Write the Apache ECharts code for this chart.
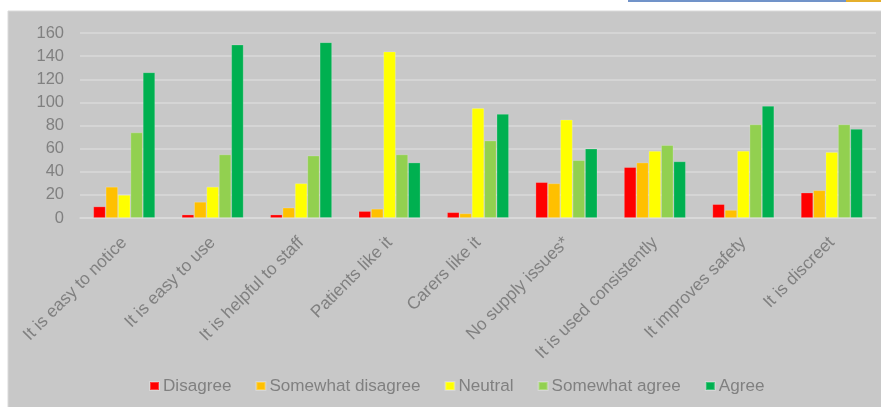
<!DOCTYPE html>
<html>
<head>
<meta charset="utf-8">
<script src="https://cdn.jsdelivr.net/npm/echarts@6/dist/echarts.min.js"></script>
<style>
html,body{margin:0;padding:0;background:#ffffff;}
#chart{width:881px;height:407px;}
</style>
</head>
<body>
<div id="chart"></div>
<script>
const categories = ["It is easy to notice","It is easy to use","It is helpful to staff","Patients like it","Carers like it","No supply issues*","It is used consistently","It improves safety","It is discreet"];
const disagree = [10, 3, 3, 6, 5, 31, 44, 12, 22];
const somewhatDisagree = [27, 14, 9, 8, 4, 30, 48, 7, 24];
const neutral = [20, 27, 30, 144, 95, 85, 58, 58, 57];
const somewhatAgree = [74, 55, 54, 55, 67, 50, 63, 81, 81];
const agree = [126, 150, 152, 48, 90, 60, 49, 97, 77];
const yTicks = [0, 20, 40, 60, 80, 100, 120, 140, 160];

const seriesDefs = [
  {name: "Disagree", data: disagree, color: "#ff0000"},
  {name: "Somewhat disagree", data: somewhatDisagree, color: "#ffc000"},
  {name: "Neutral", data: neutral, color: "#ffff00"},
  {name: "Somewhat agree", data: somewhatAgree, color: "#92d050"},
  {name: "Agree", data: agree, color: "#00b050"}
];

const textColor = "#808080";
const font = "'Liberation Sans', Arial, sans-serif";

const chart = echarts.init(document.getElementById('chart'), null, {renderer: 'canvas'});
chart.setOption({
  backgroundColor: '#ffffff',
  animation: false,
  graphic: [
    {type: 'rect', z: -10, shape: {x: 8, y: 11, width: 874, height: 397},
     style: {fill: '#c8c8c8', stroke: '#dadada', lineWidth: 1}},
    {type: 'rect', z: -5, shape: {x: 628, y: 0, width: 218, height: 2}, style: {fill: '#7193c9'}},
    {type: 'rect', z: -5, shape: {x: 846, y: 0, width: 35, height: 2}, style: {fill: '#e5af2c'}}
  ],
  grid: {left: 80, right: 5, top: 33, bottom: 189, containLabel: false},
  legend: {
    left: 144, top: 372, padding: 5,
    itemWidth: 9, itemHeight: 8, itemGap: 24,
    icon: 'rect',
    textStyle: {color: textColor, fontSize: 17.1, fontFamily: font, padding: [0, 0, 0, -1], lineHeight: 18},
    data: seriesDefs.map(s => s.name)
  },
  xAxis: {
    type: 'category',
    data: categories,
    axisLine: {show: true, lineStyle: {color: '#dadada', width: 1.5}},
    axisTick: {show: false},
    axisLabel: {rotate: 45, interval: 0, color: textColor, fontSize: 17.3, fontFamily: font, margin: 22}
  },
  yAxis: {
    type: 'value',
    min: 0, max: 160, interval: 20,
    axisLine: {show: false},
    axisTick: {show: false},
    splitLine: {lineStyle: {color: '#dadada', width: 1.5}},
    axisLabel: {color: textColor, fontSize: 16.5, fontFamily: font, margin: 16,
      formatter: v => yTicks.includes(v) ? String(v) : ''}
  },
  series: seriesDefs.map(s => ({
    name: s.name,
    type: 'bar',
    data: s.data,
    barGap: '0%',
    barCategoryGap: '30%',
    itemStyle: {color: s.color, borderColor: 'rgba(255,255,255,0.25)', borderWidth: 0.8}
  }))
});
</script>
</body>
</html>
